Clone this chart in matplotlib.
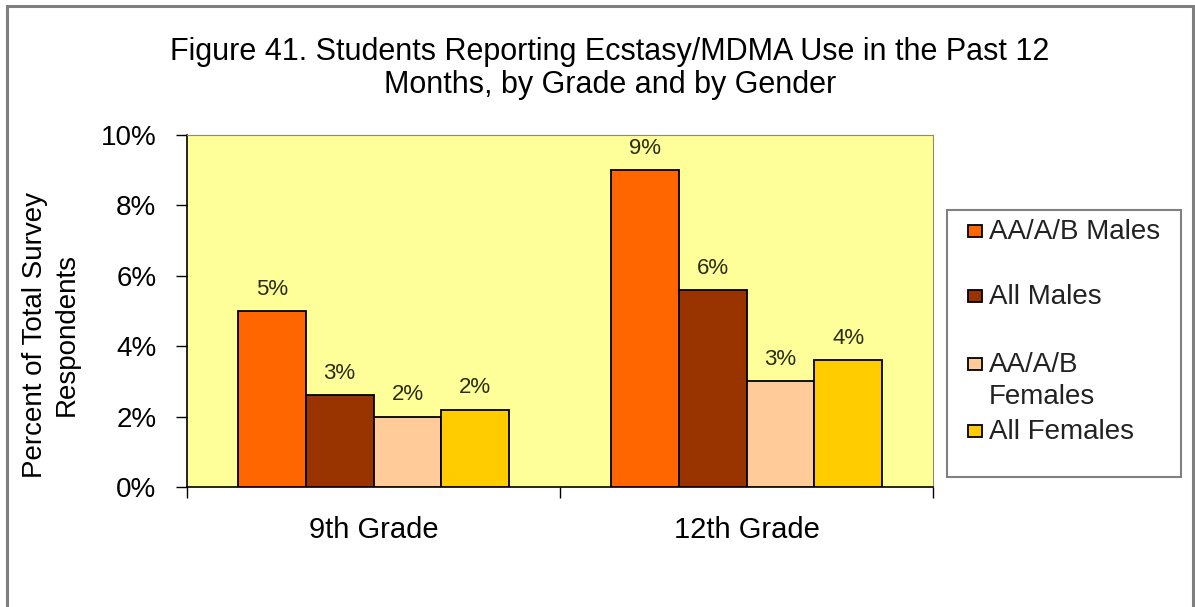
import numpy as np
import matplotlib
matplotlib.use("Agg")
import matplotlib.pyplot as plt
from matplotlib.patches import Rectangle
from matplotlib.ticker import FuncFormatter, FixedLocator

plt.rcParams['font.family'] = ['Liberation Sans', 'DejaVu Sans']

grades = ["9th Grade", "12th Grade"]
series = ["AA/A/B Males", "All Males", "AA/A/B\nFemales", "All Females"]
aab_males = [5.0, 9.0]
all_males = [2.6, 5.6]
aab_females = [2.0, 3.0]
all_females = [2.2, 3.6]
colors = ["#FF6600", "#993300", "#FFCC99", "#FFCC00"]

W, H = 1195, 607
fig = plt.figure(figsize=(W / 100, H / 100), dpi=100)
fig.patch.set_facecolor("white")

# outer chart border
fig.patches.append(Rectangle((7 / W, -0.02), 1186 / W, 1.02 - 6 / H, transform=fig.transFigure,
                             facecolor="none", edgecolor="#7f7f7f", lw=2.2))

# plot area in pixels
left, right, top, bottom = 187, 933, 135, 487
ax = fig.add_axes([left / W, 1 - bottom / H, (right - left) / W, (bottom - top) / H])
ax.set_facecolor("#FFFF99")

x = np.arange(len(grades))
bw = 0.182
allvals = [aab_males, all_males, aab_females, all_females]
bars = []
for i, (vals, c, lab) in enumerate(zip(allvals, colors, series)):
    b = ax.bar(x + (i - 1.5) * bw, vals, bw, color=c, edgecolor="black", lw=1.3, label=lab, zorder=3)
    ax.bar_label(b, labels=["{:.0f}%".format(v) for v in vals], padding=8,
                 fontsize=16, color="#2b2b10")
    bars.append(b)

ax.set_xlim(-0.5, 1.5)
ax.set_ylim(0, 10)
ax.yaxis.set_major_locator(FixedLocator([0, 2, 4, 6, 8, 10]))
ax.yaxis.set_major_formatter(FuncFormatter(lambda v, p: "{:.0f}%".format(v)))
ax.tick_params(axis="y", direction="out", length=8, width=1, pad=14, labelsize=20, colors="black")
ax.set_xticks(x)
ax.set_xticklabels(grades)
ax.set_xticks([-0.5, 0.5, 1.5], minor=True)
ax.tick_params(axis="x", which="major", length=0, pad=21, labelsize=21)
ax.tick_params(axis="x", which="minor", direction="out", length=8, width=1)

for s in ["top", "right"]:
    ax.spines[s].set_color("#8c8c6c")
for s in ["left", "bottom"]:
    ax.spines[s].set_color("black")
    ax.spines[s].set_linewidth(1.2)

ax.set_ylabel("Percent of Total Survey\nRespondents", fontsize=20, ha="center", va="center",
              linespacing=1.25)
ax.yaxis.set_label_coords((51 - left) / (right - left), (bottom - 335) / (bottom - top))

fig.text(610 / W, 1 - 37 / H,
         "Figure 41. Students Reporting Ecstasy/MDMA Use in the Past 12\nMonths, by Grade and by Gender",
         ha="center", va="top", fontsize=22, linespacing=1.15)

# legend box, drawn by hand to follow the reference spacing
fig.patches.append(Rectangle((947 / W, 1 - 477 / H), 234 / W, 267 / H, transform=fig.transFigure,
                             facecolor="white", edgecolor="#808080", lw=1.5, zorder=1))
leg_y = [231, 296, 364, 431]   # centre of first text line, px from top
for lab, c, yc in zip(series, colors, leg_y):
    fig.patches.append(Rectangle((968 / W, 1 - (yc + 6) / H), 14 / W, 12 / H,
                                 transform=fig.transFigure, facecolor=c,
                                 edgecolor="black", lw=1.3, zorder=2))
    for k, line in enumerate(lab.split("\n")):
        fig.text(989 / W, 1 - (yc + 8 + 32 * k) / H, line, ha="left", va="baseline",
                 fontsize=20, color="#222222")

fig.savefig("out.png", dpi=100)
